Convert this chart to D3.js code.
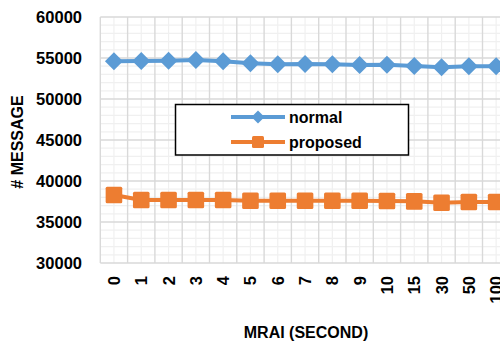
<!DOCTYPE html>
<html>
<head>
<meta charset="utf-8">
<script src="https://cdnjs.cloudflare.com/ajax/libs/d3/7.8.5/d3.min.js"></script>
<style>
    body { margin: 0; background: #fff; }
    svg text { font-family: "Liberation Sans", Arial, sans-serif; font-weight: bold; fill: #000; }
</style>
</head>
<body>
<div id="chart"></div>
<script>
var mraiLabels = ["0", "1", "2", "3", "4", "5", "6", "7", "8", "9", "10", "15", "30", "50", "100"];
var normalValues = [54600, 54630, 54670, 54760, 54600, 54350, 54230, 54270, 54230, 54150, 54190, 54020, 53860, 53990, 54000];
var proposedValues = [38290, 37680, 37680, 37680, 37680, 37600, 37600, 37600, 37600, 37600, 37560, 37520, 37350, 37440, 37440];
var yTicks = [30000, 35000, 40000, 45000, 50000, 55000, 60000];

var width = 500, height = 343;
var plotLeft = 100.3, plotRight = 509.8, plotTop = 17, plotBottom = 263;

var svg = d3.select("#chart").append("svg")
    .attr("width", width).attr("height", height);

var x = d3.scaleBand().domain(mraiLabels).range([plotLeft, plotRight]);
var y = d3.scaleLinear().domain([30000, 60000]).range([plotBottom, plotTop]);

// minor grid
var minorY = d3.range(31000, 60000, 1000).filter(function (v) { return v % 5000 !== 0; });
svg.append("g").selectAll("line").data(minorY).enter().append("line")
    .attr("x1", plotLeft).attr("x2", plotRight)
    .attr("y1", function (d) { return y(d); }).attr("y2", function (d) { return y(d); })
    .attr("stroke", "#f0f0f0").attr("stroke-width", 1.2);
svg.append("g").selectAll("line").data(mraiLabels).enter().append("line")
    .attr("x1", function (d) { return x(d) + x.bandwidth() / 2; })
    .attr("x2", function (d) { return x(d) + x.bandwidth() / 2; })
    .attr("y1", plotTop).attr("y2", plotBottom)
    .attr("stroke", "#f0f0f0").attr("stroke-width", 1.2);

// major grid
svg.append("g").selectAll("line").data(yTicks).enter().append("line")
    .attr("x1", plotLeft).attr("x2", plotRight)
    .attr("y1", function (d) { return y(d); }).attr("y2", function (d) { return y(d); })
    .attr("stroke", "#d9d9d9").attr("stroke-width", 1.4);
svg.append("g").selectAll("line").data(mraiLabels.concat(["end"])).enter().append("line")
    .attr("x1", function (d) { return d === "end" ? plotRight : x(d); })
    .attr("x2", function (d) { return d === "end" ? plotRight : x(d); })
    .attr("y1", plotTop).attr("y2", plotBottom)
    .attr("stroke", "#d9d9d9").attr("stroke-width", 1.4);

// y tick labels
svg.append("g").selectAll("text").data(yTicks).enter().append("text")
    .attr("x", 82).attr("y", function (d) { return y(d); })
    .attr("dy", "0.36em").attr("text-anchor", "end")
    .style("font-size", "16.5px")
    .text(function (d) { return d; });

// x tick labels (rotated)
svg.append("g").selectAll("text").data(mraiLabels).enter().append("text")
    .attr("transform", function (d) {
        return "translate(" + (x(d) + x.bandwidth() / 2) + ",276) rotate(-90)";
    })
    .attr("dy", "0.36em").attr("text-anchor", "end")
    .style("font-size", "16.5px")
    .text(function (d) { return d; });

// axis titles
svg.append("text").attr("x", 306).attr("y", 332).attr("dy", "0.36em")
    .attr("text-anchor", "middle").style("font-size", "16px")
    .text("MRAI (SECOND)");
svg.append("text").attr("transform", "translate(17,142) rotate(-90)")
    .attr("dy", "0.36em").attr("text-anchor", "middle").style("font-size", "16px")
    .text("# MESSAGE");

var series = [
    {name: "normal", values: normalValues, color: "#5b9bd5", symbol: "diamond"},
    {name: "proposed", values: proposedValues, color: "#ed7d31", symbol: "square"}
];

function drawMarker(g, s, cx, cy, size) {
    if (s.symbol === "diamond") {
        g.append("path")
            .attr("d", "M" + cx + "," + (cy - size) + "L" + (cx + size) + "," + cy + "L" + cx + "," + (cy + size) + "L" + (cx - size) + "," + cy + "Z")
            .attr("fill", s.color);
    } else {
        g.append("rect")
            .attr("x", cx - size).attr("y", cy - size)
            .attr("width", size * 2).attr("height", size * 2)
            .attr("rx", 1.5).attr("fill", s.color);
    }
}

var line = d3.line()
    .x(function (d, i) { return x(mraiLabels[i]) + x.bandwidth() / 2; })
    .y(function (d) { return y(d); });

series.forEach(function (s) {
    var g = svg.append("g");
    g.append("path").datum(s.values)
        .attr("d", line).attr("fill", "none")
        .attr("stroke", s.color).attr("stroke-width", 4);
    s.values.forEach(function (v, i) {
        drawMarker(g, s, x(mraiLabels[i]) + x.bandwidth() / 2, y(v), s.symbol === "diamond" ? 9 : 8.3);
    });
});

// legend
var legend = svg.append("g");
legend.append("rect").attr("x", 175.5).attr("y", 104.5).attr("width", 233).attr("height", 50.5)
    .attr("fill", "#fff").attr("stroke", "#000").attr("stroke-width", 1.5);
series.forEach(function (s, i) {
    var ly = 117 + i * 25;
    legend.append("line").attr("x1", 231).attr("x2", 285).attr("y1", ly).attr("y2", ly)
        .attr("stroke", s.color).attr("stroke-width", 4);
    drawMarker(legend, s, 258, ly, s.symbol === "diamond" ? 6.5 : 6);
    legend.append("text").attr("x", 289).attr("y", ly).attr("dy", "0.36em")
        .style("font-size", "16px").text(s.name);
});
</script>
</body>
</html>
